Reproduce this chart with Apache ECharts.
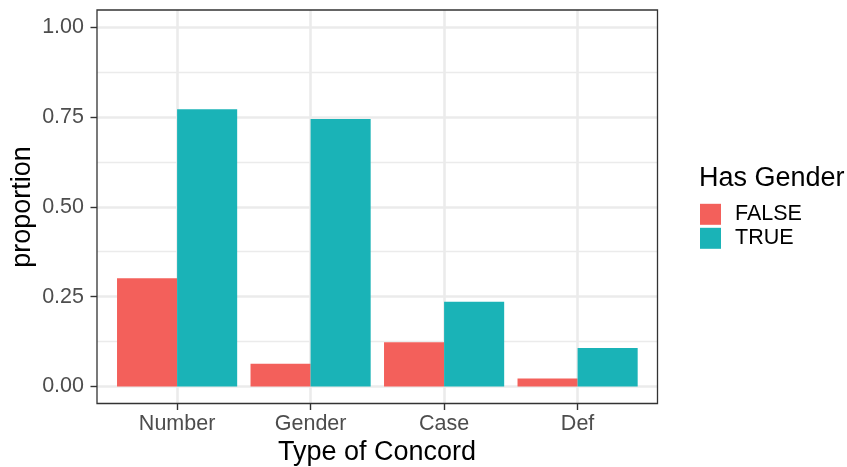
<!DOCTYPE html>
<html>
<head>
<meta charset="utf-8">
<script src="https://cdn.jsdelivr.net/npm/echarts@6/dist/echarts.min.js"></script>
<style>
html,body{margin:0;padding:0;background:#fff;}
#chart{width:847px;height:467px;}
</style>
</head>
<body>
<div id="chart"></div>
<script>
const categories = ['Number', 'Gender', 'Case', 'Def'];
const falseValues = [0.301, 0.063, 0.123, 0.022];
const trueValues = [0.771, 0.744, 0.236, 0.107];
const yTicks = [0, 0.25, 0.5, 0.75, 1];
const seriesNames = ['FALSE', 'TRUE'];
const legendTitle = 'Has Gender';
const xTitle = 'Type of Concord';
const yTitle = 'proportion';

const FONT = '"Liberation Sans", Arial, Helvetica, sans-serif';
const GRID = '#EBEBEB';
const DARK = '#333333';
const colors = ['#F3605B', '#1AB3B7'];

const chart = echarts.init(document.getElementById('chart'), null, {renderer: 'canvas'});
const option = {
  animation: false,
  backgroundColor: '#ffffff',
  textStyle: {fontFamily: FONT},
  grid: [
    // panel grid (horizontal gridlines + y axis)
    {left: 97, right: 189.5, top: 27, bottom: 80.5},
    // bars grid
    {left: 110.35, right: 202.65, top: 27, bottom: 80.5},
    // vertical gridlines + x axis ticks/labels
    {left: 177.1, right: 269.4, top: 10, bottom: 63.5}
  ],
  xAxis: [
    {gridIndex: 0, type: 'value', show: false, min: 0, max: 1},
    {gridIndex: 1, type: 'category', data: categories, show: false, boundaryGap: true},
    {gridIndex: 2, type: 'category', data: categories, boundaryGap: false,
      axisLine: {show: false},
      axisTick: {show: true, inside: false, length: 6.5, lineStyle: {color: DARK, width: 1.4}},
      axisLabel: {show: true, margin: 10, fontSize: 21.5, color: '#4D4D4D', fontFamily: FONT},
      splitLine: {show: true, lineStyle: {color: GRID, width: 2.6}}
    }
  ],
  yAxis: [
    {gridIndex: 0, type: 'value', min: 0, max: 1, interval: 0.25,
      axisLine: {show: false},
      axisTick: {show: true, inside: false, length: 6.5, lineStyle: {color: DARK, width: 1.4}},
      axisLabel: {margin: 13, fontSize: 21.5, color: '#4D4D4D', fontFamily: FONT,
        formatter: v => yTicks.includes(v) ? v.toFixed(2) : ''},
      splitLine: {show: true, lineStyle: {color: GRID, width: 2.6}},
      minorTick: {show: false, splitNumber: 2},
      minorSplitLine: {show: true, lineStyle: {color: GRID, width: 1.3}}
    },
    {gridIndex: 1, type: 'value', min: 0, max: 1, show: false},
    {gridIndex: 2, type: 'value', min: 0, max: 1, show: false, splitLine: {show: false}}
  ],
  legend: {
    orient: 'vertical',
    left: 700, top: 203.3,
    padding: 0,
    data: seriesNames,
    icon: 'rect',
    itemWidth: 21, itemHeight: 21, itemGap: 2,
    itemStyle: {borderWidth: 0},
    textStyle: {fontSize: 21.5, color: '#000', fontFamily: FONT, lineHeight: 21, padding: [0, 0, 0, 9]}
  },
  series: [
    {name: seriesNames[0], type: 'bar', xAxisIndex: 1, yAxisIndex: 1, data: falseValues,
      itemStyle: {color: colors[0]}, barGap: '0%', barCategoryGap: '10%'},
    {name: seriesNames[1], type: 'bar', xAxisIndex: 1, yAxisIndex: 1, data: trueValues,
      itemStyle: {color: colors[1]}, barGap: '0%', barCategoryGap: '10%'}
  ],
  graphic: [
    {type: 'rect', z: 100, silent: true,
      shape: {x: 97, y: 10, width: 560.5, height: 393.5},
      style: {fill: 'none', stroke: DARK, lineWidth: 1.3}},
    {type: 'text', z: 100, x: 377, y: 452.5,
      style: {text: xTitle, fontSize: 27, fontFamily: FONT, fill: '#000', align: 'center', verticalAlign: 'middle'}},
    {type: 'text', z: 100, x: 23, y: 207, rotation: Math.PI / 2,
      style: {text: yTitle, fontSize: 27, fontFamily: FONT, fill: '#000', align: 'center', verticalAlign: 'middle'}},
    {type: 'text', z: 100, x: 699, y: 179,
      style: {text: legendTitle, fontSize: 27, fontFamily: FONT, fill: '#000', align: 'left', verticalAlign: 'middle'}}
  ]
};
chart.setOption(option);
</script>
</body>
</html>
